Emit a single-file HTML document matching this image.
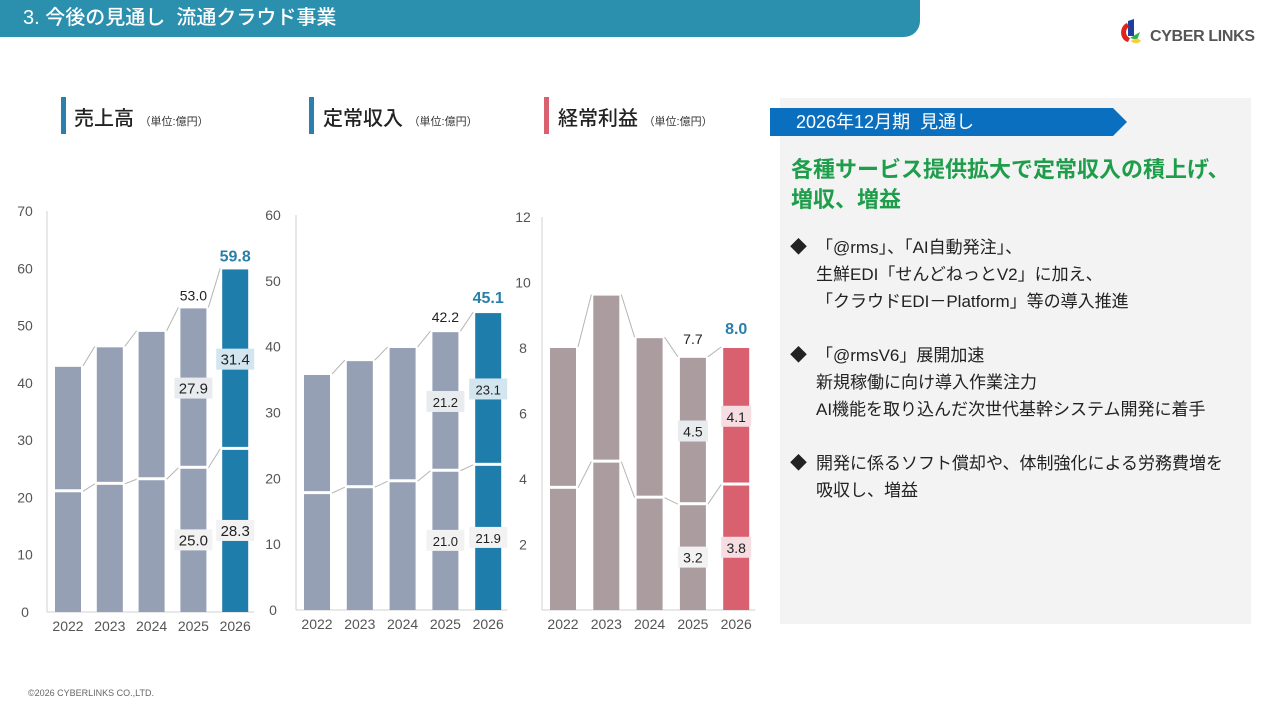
<!DOCTYPE html>
<html><head><meta charset="utf-8">
<style>
*{margin:0;padding:0;box-sizing:border-box}
body{width:1280px;height:720px;background:#fff;position:relative;overflow:hidden;font-family:"Liberation Sans","Noto Sans CJK JP",sans-serif;color:#222}
.abs{position:absolute}
.hdr{left:0;top:0;width:920px;height:37px;background:#2b8fae;border-bottom-right-radius:16px;color:#fff;font-size:20px;line-height:37px;padding-left:23px;font-weight:500}
.ttl{font-size:20px;font-weight:500;color:#222;white-space:nowrap}
.ttl small{font-size:11px;font-weight:400;color:#333}
.mark{width:5px;height:37px}
.panel{left:780px;top:98px;width:471px;height:526px;background:#f3f3f3}
.banner{left:770px;top:108px;height:28px;width:357px;background:#0b6fbf;clip-path:polygon(0 0,343px 0,357px 14px,343px 28px,0 28px);color:#fff;font-size:18px;line-height:28px;padding-left:26px}
.green{left:791px;top:155px;font-size:22px;font-weight:bold;color:#1e9e4a;line-height:30px;white-space:nowrap}
.bl{left:790px;font-size:17px;line-height:27px;color:#222;white-space:nowrap}
.bl span.d{position:absolute;left:0;top:0}
.bl div{padding-left:26px}
</style></head><body>
<div class="abs hdr">3. 今後の見通し&nbsp;&nbsp;流通クラウド事業</div>
<div class="abs" style="left:1118px;top:18px;width:150px;height:30px">
<svg width="150" height="30"><path d="M10 3 L16 1 L16 18 L10 18Z" fill="#1c3fa0"/><path d="M9 5 C1 8 1 22 10 24 L12 20 C7 18 7 11 11 9Z" fill="#e0221e"/><path d="M12 20 L22 14 L19 22Z" fill="#2fb24a"/><path d="M13 23 C16 20 21 20 23 23 C20 26 16 26 13 23Z" fill="#f2d13b"/>
<text x="32" y="23" font-family="Liberation Sans" font-size="16" fill="#555" font-weight="bold" textLength="105">CYBER LINKS</text></svg></div>

<div class="abs mark" style="left:61px;top:97px;background:#2b7fad"></div>
<div class="abs ttl" style="left:74px;top:102px">売上高 <small>（単位:億円）</small></div>
<div class="abs mark" style="left:309px;top:97px;background:#2b7fad"></div>
<div class="abs ttl" style="left:323px;top:102px">定常収入 <small>（単位:億円）</small></div>
<div class="abs mark" style="left:544px;top:97px;background:#d9606f"></div>
<div class="abs ttl" style="left:558px;top:102px">経常利益 <small>（単位:億円）</small></div>

<svg class="abs" id="charts" style="left:0;top:0" width="780" height="660"></svg>

<div class="abs panel"></div>
<div class="abs banner">2026年12月期&nbsp;&nbsp;見通し</div>
<div class="abs green">各種サービス提供拡大で定常収入の積上げ、<br>増収、増益</div>
<div class="abs bl" style="top:234px"><span class="d">◆</span><div>「@rms」、「AI自動発注」、<br>生鮮EDI「せんどねっとV2」に加え、<br>「クラウドEDI－Platform」等の導入推進</div></div>
<div class="abs bl" style="top:342px"><span class="d">◆</span><div>「@rmsV6」展開加速<br>新規稼働に向け導入作業注力<br>AI機能を取り込んだ次世代基幹システム開発に着手</div></div>
<div class="abs bl" style="top:450px"><span class="d">◆</span><div>開発に係るソフト償却や、体制強化による労務費増を<br>吸収し、増益</div></div>
<div class="abs" style="left:28px;top:688px;font-size:9px;color:#666">©2026 CYBERLINKS CO.,LTD.</div>

<script>
const years=["2022","2023","2024","2025","2026"];
const salesLower=[20.9,22.2,23.0,25.0,28.3];
const salesTotal=[42.8,46.2,48.9,53.0,59.8];
const salesTicks=[0,10,20,30,40,50,60,70];
const recLower=[17.6,18.5,19.4,21.0,21.9];
const recTotal=[35.7,37.8,39.8,42.2,45.1];
const recTicks=[0,10,20,30,40,50,60];
const profLower=[3.7,4.5,3.4,3.2,3.8];
const profTotal=[8.0,9.6,8.3,7.7,8.0];
const profTicks=[2,4,6,8,10,12];
const salesLabels={lower:"25.0",upper:"27.9",lower2:"28.3",upper2:"31.4",t1:"53.0",t2:"59.8"};
const recLabels={lower:"21.0",upper:"21.2",lower2:"21.9",upper2:"23.1",t1:"42.2",t2:"45.1"};
const profLabels={lower:"3.2",upper:"4.5",lower2:"3.8",upper2:"4.1",t1:"7.7",t2:"8.0"};

const NS="http://www.w3.org/2000/svg";
const svg=document.getElementById('charts');
function mk(tag,attrs,parent){const e=document.createElementNS(NS,tag);for(const k in attrs)e.setAttribute(k,attrs[k]);(parent||svg).appendChild(e);return e;}
function txt(x,y,s,opts,parent){const t=mk('text',Object.assign({x:x,y:y,'font-family':'Liberation Sans, sans-serif','font-size':13,fill:'#555','text-anchor':'middle'},opts),parent);t.textContent=s;return t;}

function chart(cfg){
  const g=mk('g',{});
  
  
  const y=v=>cfg.y0-(v/cfg.max)*(cfg.y0-cfg.yTop);
  const x=i=>cfg.x0+i*cfg.step;
  const bw=26;
  const ax=mk('line',{x1:cfg.axisX,y1:cfg.yTop,x2:cfg.axisX,y2:cfg.y0,stroke:'#d0d0d0','stroke-width':1},g);
  
  const bx=mk('line',{x1:cfg.axisX,y1:cfg.y0,x2:x(4)+bw+6,y2:cfg.y0,stroke:'#d0d0d0','stroke-width':1},g);
  
  cfg.ticks.forEach(t=>{const e=txt(cfg.axisX-cfg.tickOff,y(t)+5,String(t),{'text-anchor':'middle','font-size':14},g);
    });
  for(let i=0;i<4;i++){
    [cfg.total,cfg.lower].forEach(arr=>{
      const c=mk('line',{x1:x(i)+bw+2,y1:y(arr[i])-1,x2:x(i+1)-2,y2:y(arr[i+1])-1,stroke:'#b5b5b5','stroke-width':1},g);
      
    });
  }
  for(let i=0;i<5;i++){
    const col=i===4?cfg.hi:cfg.base;
    const lo=mk('rect',{x:x(i),y:y(cfg.lower[i]),width:bw,height:cfg.y0-y(cfg.lower[i]),fill:col},g);
    
    const up=mk('rect',{x:x(i),y:y(cfg.total[i]),width:bw,height:y(cfg.lower[i])-y(cfg.total[i])-3,fill:col},g);
    
    const xl=txt(x(i)+bw/2,cfg.y0+19,years[i],{'font-size':14},g);
    
  }
  const L=cfg.labels;
  function box(i,v,s,bg,fs){
    const cx=x(i)+bw/2, cy=y(v);
    const w=s.length*8+6;
    const r=mk('rect',{x:cx-w/2,y:cy-11,width:w,height:21,fill:bg},g);
    
    const t=txt(cx,cy+5,s,{'font-size':fs,fill:'#222'},g);
    
  }
  box(3,cfg.lower[3]/2,L.lower,'#f2f2f2',cfg.fs);
  box(3,(cfg.lower[3]+cfg.total[3])/2,L.upper,'#e9ecef',cfg.fs);
  box(4,cfg.lower[4]/2,L.lower2,cfg.lbg2,cfg.fs);
  box(4,(cfg.lower[4]+cfg.total[4])/2,L.upper2,cfg.lbg,cfg.fs);
  const t1=txt(x(3)+bw/2,y(cfg.total[3])-cfg.off,L.t1,{'font-size':14,fill:'#222'},g);
  
  const t2=txt(x(4)+bw/2,y(cfg.total[4])-cfg.off,L.t2,{'font-size':16,fill:'#2a7fa8','font-weight':'bold'},g);
  
}
chart({name:'sales-chart',lower:salesLower,total:salesTotal,ticks:salesTicks,labels:salesLabels,max:70,y0:612,yTop:211,x0:55,step:41.8,axisX:47,tickOff:22,base:'#95a0b4',hi:'#1f7dab',lbg:'#d3e6f0',lbg2:'#f2f2f2',fs:15,off:8});
chart({name:'recurring-chart',lower:recLower,total:recTotal,ticks:recTicks,labels:recLabels,max:60,y0:610,yTop:215,x0:304,step:42.8,axisX:296,tickOff:23,base:'#95a0b4',hi:'#1f7dab',lbg:'#d3e6f0',lbg2:'#f2f2f2',fs:13,off:10});
chart({name:'profit-chart',lower:profLower,total:profTotal,ticks:profTicks,labels:profLabels,max:12,y0:610,yTop:217,x0:550,step:43.3,axisX:542,tickOff:19,base:'#ab9c9f',hi:'#d9606f',lbg:'#f6dde1',lbg2:'#f6dde1',fs:14,off:14});
</script>
</body></html>
